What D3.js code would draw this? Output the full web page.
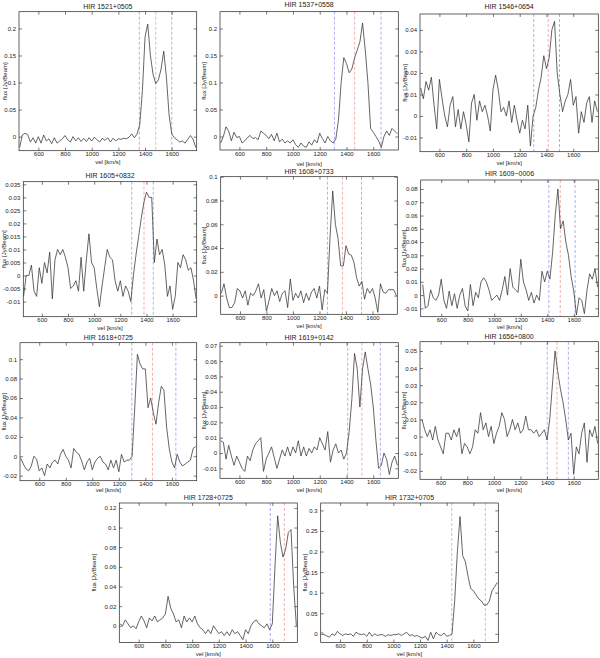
<!DOCTYPE html>
<html>
<head>
<meta charset="utf-8">
<script src="https://cdn.jsdelivr.net/npm/d3@7"></script>
<style>
body { margin: 0; background: #fff; }
svg text { font-family: "Liberation Sans", Arial, sans-serif; fill: #222; }
</style>
</head>
<body>
<svg id="fig" width="600" height="658"></svg>
<script>
// velocity channels [km/s], shared by every spectrum
var vel = [460, 480, 500, 520, 540, 560, 580, 600, 620, 640,
           660, 680, 700, 720, 740, 760, 780, 800, 820, 840,
           860, 880, 900, 920, 940, 960, 980, 1000, 1020, 1040,
           1060, 1080, 1100, 1120, 1140, 1160, 1180, 1200, 1220, 1240,
           1260, 1280, 1300, 1320, 1340, 1360, 1380, 1400, 1420, 1440,
           1460, 1480, 1500, 1520, 1540, 1560, 1580, 1600, 1620, 1640,
           1660, 1680, 1700, 1720, 1740, 1760, 1780];

var xTicks = [600, 800, 1000, 1200, 1400, 1600];

// flux [Jy/Beam], one list per source
var flux1521 = [-0.020, 0.003, 0.006, 0.004, -0.010, -0.002, -0.012, 0.000, -0.012, 0.003,
                -0.008, -0.004, -0.013, -0.002, -0.012, -0.008, -0.004, 0.002, -0.006, -0.010,
                0.000, -0.008, -0.002, -0.009, -0.003, -0.009, -0.002, -0.008, -0.001, -0.006,
                -0.010, -0.003, -0.007, -0.002, -0.010, -0.003, -0.008, -0.004, -0.005, -0.003,
                -0.004, -0.001, 0.005, -0.002, 0.005, 0.022, 0.085, 0.185, 0.208, 0.150,
                0.115, 0.098, 0.105, 0.125, 0.158, 0.110, 0.040, 0.005, -0.002, -0.006,
                -0.010, -0.008, -0.012, -0.005, 0.002, -0.005, -0.020];
var flux1537 = [-0.012, 0.000, 0.018, 0.010, -0.008, 0.008, -0.002, 0.000, -0.012, -0.008,
                -0.002, 0.002, -0.004, -0.002, -0.006, 0.010, 0.006, 0.002, -0.004, 0.004,
                -0.008, 0.006, -0.010, -0.005, -0.012, -0.008, -0.012, -0.006, -0.015, -0.020,
                -0.012, -0.018, -0.020, -0.010, -0.016, -0.006, -0.012, 0.006, -0.004, -0.012,
                0.000, -0.008, -0.012, -0.005, 0.030, 0.100, 0.146, 0.135, 0.118, 0.125,
                0.145, 0.160, 0.175, 0.210, 0.160, 0.100, 0.015, 0.008, 0.000, -0.008,
                -0.020, 0.000, 0.010, 0.002, 0.015, 0.010, 0.005];
var flux1546 = [0.013, 0.008, 0.016, 0.012, 0.018, 0.005, -0.006, 0.017, 0.008, 0.000,
                -0.005, 0.005, 0.009, -0.005, 0.003, -0.006, 0.002, -0.004, -0.012, 0.006,
                0.010, -0.002, 0.007, 0.002, 0.005, 0.000, -0.007, 0.012, 0.019, 0.012,
                0.002, 0.004, 0.000, 0.007, -0.003, 0.005, -0.002, -0.008, -0.002, -0.006,
                0.005, -0.014, 0.000, 0.004, 0.012, 0.018, 0.028, 0.022, 0.027, 0.040,
                0.044, 0.020, 0.010, 0.002, 0.007, 0.010, 0.017, 0.005, 0.009, -0.008,
                0.002, -0.003, 0.006, 0.009, -0.003, 0.007, 0.002];
var flux1605 = [-0.008, 0.000, 0.000, 0.004, -0.006, -0.008, 0.003, -0.003, 0.005, 0.001,
                0.009, -0.009, 0.006, 0.010, 0.008, 0.010, 0.007, 0.003, -0.005, -0.004,
                -0.002, -0.006, 0.007, -0.006, 0.006, 0.016, 0.005, 0.003, -0.005, -0.012,
                -0.004, 0.003, 0.010, 0.007, 0.006, -0.002, -0.006, -0.002, -0.008, -0.004,
                -0.006, -0.010, 0.000, 0.008, 0.015, 0.022, 0.028, 0.032, 0.030, 0.030,
                0.005, 0.014, 0.008, 0.010, 0.004, -0.008, -0.004, -0.013, -0.008, 0.005,
                0.003, 0.008, 0.006, 0.002, 0.003, -0.002, -0.009];
var flux1608 = [0.002, 0.010, -0.002, -0.010, -0.010, -0.006, 0.006, 0.004, -0.002, 0.004,
                -0.008, 0.002, 0.000, 0.004, 0.010, -0.002, 0.005, -0.013, -0.004, 0.006,
                0.000, 0.004, -0.005, 0.002, 0.004, -0.010, 0.014, -0.004, 0.002, -0.002,
                0.004, -0.006, 0.002, -0.004, 0.003, 0.006, -0.002, 0.008, -0.012, 0.005,
                0.002, 0.050, 0.088, 0.060, 0.048, 0.025, 0.025, 0.042, 0.035, 0.034,
                0.028, 0.015, 0.008, 0.012, -0.003, 0.006, 0.002, 0.006, -0.002, -0.014,
                0.010, 0.003, 0.002, 0.005, 0.005, 0.005, 0.000];
var flux1609 = [0.008, -0.010, -0.008, 0.004, -0.002, -0.004, 0.000, 0.012, -0.004, -0.010,
                0.003, -0.008, 0.001, -0.010, 0.000, 0.005, -0.008, -0.012, 0.008, -0.008,
                0.002, -0.002, 0.010, 0.013, 0.010, 0.004, -0.004, -0.002, 0.000, -0.004,
                0.004, 0.014, 0.000, 0.020, 0.006, 0.004, 0.002, 0.027, 0.010, 0.004,
                -0.004, 0.002, -0.006, 0.000, -0.004, 0.018, 0.010, 0.018, 0.012, 0.032,
                0.060, 0.080, 0.050, 0.056, 0.040, 0.030, 0.014, 0.003, -0.015, -0.002,
                -0.004, -0.014, 0.004, 0.016, 0.012, 0.020, 0.006];
var flux1618 = [-0.002, -0.008, -0.013, -0.015, -0.010, 0.000, -0.003, -0.015, -0.012, -0.020,
                -0.008, -0.012, -0.006, -0.004, -0.008, 0.002, 0.007, 0.000, -0.004, -0.012,
                0.008, 0.004, 0.002, -0.005, -0.014, -0.006, -0.002, -0.014, -0.006, -0.002,
                0.000, -0.006, -0.008, -0.014, -0.004, -0.012, -0.004, -0.016, 0.002, -0.006,
                -0.004, -0.004, 0.000, 0.050, 0.105, 0.095, 0.090, 0.090, 0.050, 0.060,
                0.045, 0.033, 0.055, 0.072, 0.068, 0.030, 0.008, -0.006, -0.012, 0.002,
                -0.006, -0.010, -0.008, -0.006, -0.004, 0.008, 0.010];
var flux1619 = [0.008, 0.007, -0.004, 0.005, -0.002, -0.008, -0.002, -0.006, -0.010, -0.012,
                -0.002, -0.005, 0.002, 0.006, 0.008, 0.010, -0.012, -0.004, 0.000, 0.004,
                -0.003, -0.010, -0.004, 0.002, -0.002, 0.004, -0.002, 0.004, 0.000, 0.008,
                -0.002, 0.004, -0.002, 0.003, 0.000, 0.004, 0.002, 0.010, 0.006, 0.002,
                0.014, -0.006, 0.002, 0.006, 0.000, 0.002, -0.004, 0.000, 0.014, 0.035,
                0.065, 0.055, 0.030, 0.055, 0.066, 0.055, 0.045, 0.030, 0.008, -0.010,
                -0.008, 0.000, -0.004, -0.014, -0.006, -0.002, -0.008];
var flux1656 = [0.010, 0.004, 0.000, 0.004, -0.002, 0.006, -0.002, -0.006, -0.010, 0.002,
                0.002, -0.002, 0.004, 0.000, 0.005, -0.010, -0.004, -0.006, -0.010, -0.006,
                0.004, 0.002, 0.014, 0.004, 0.008, 0.000, 0.006, -0.004, 0.002, 0.006,
                0.014, 0.010, 0.000, 0.004, 0.010, 0.004, 0.008, 0.002, 0.004, 0.012,
                0.004, 0.004, 0.002, 0.004, 0.000, 0.002, 0.004, -0.002, 0.010, 0.030,
                0.050, 0.038, 0.028, 0.020, 0.010, -0.002, 0.002, -0.022, -0.006, -0.010,
                0.002, 0.008, -0.015, 0.004, 0.000, 0.006, -0.004];
var flux1728 = [0.002, 0.000, 0.006, 0.002, -0.002, 0.000, -0.003, 0.004, 0.010, 0.005,
                -0.002, 0.008, 0.005, 0.010, 0.004, 0.006, 0.008, 0.012, 0.030, 0.018,
                0.012, 0.004, 0.006, -0.002, 0.010, 0.004, 0.008, 0.004, 0.010, 0.002,
                -0.002, -0.004, -0.008, -0.004, -0.008, 0.000, -0.004, -0.008, -0.006, -0.010,
                -0.006, -0.010, -0.004, -0.008, -0.006, -0.010, -0.014, -0.004, -0.008, 0.000,
                0.004, 0.006, 0.002, 0.000, -0.002, 0.002, -0.004, 0.002, 0.060, 0.112,
                0.085, 0.070, 0.078, 0.095, 0.098, 0.040, 0.000];
var flux1732 = [0.005, -0.002, -0.005, -0.008, 0.000, -0.004, 0.006, 0.000, -0.004, 0.000,
                -0.002, 0.000, -0.006, 0.004, 0.000, -0.002, 0.000, -0.006, 0.004, -0.006,
                0.000, -0.004, -0.002, -0.002, -0.006, -0.002, -0.004, -0.002, -0.002, 0.000,
                -0.004, 0.000, 0.004, -0.004, -0.002, -0.006, -0.004, -0.008, -0.010, -0.006,
                -0.016, 0.004, -0.012, 0.004, -0.002, -0.004, 0.002, -0.006, -0.004, 0.000,
                0.080, 0.200, 0.285, 0.190, 0.175, 0.140, 0.110, 0.105, 0.095, 0.085,
                0.080, 0.070, 0.070, 0.080, 0.105, 0.115, 0.125];

var names = ["HIR 1521+0505", "HIR 1537+0558", "HIR 1546+0654",
             "HIR 1605+0832", "HIR 1608+0733", "HIR 1609\u22120006",
             "HIR 1618+0725", "HIR 1619+0142", "HIR 1656+0800",
             "HIR 1728+0725", "HIR 1732+0705"];

// velocity markers: outer (blue) and centre (red)
var blueLines = [[1357, 1600], [1310, 1658], [1305, 1497],
                 [1287, 1452], [1260, 1517], [1412, 1610],
                 [1298, 1630], [1409, 1653], [1401, 1560],
                 [1585], []];
var redLines = [[1480], [1461], [1413],
                [1381], [1373], [1498],
                [1454], [1515], [1474],
                [1690], [1438, 1690]];

var yTicks = [[0, 0.05, 0.1, 0.15, 0.2],
              [0, 0.05, 0.1, 0.15, 0.2],
              [-0.01, 0, 0.01, 0.02, 0.03, 0.04],
              [-0.01, -0.005, 0, 0.005, 0.01, 0.015, 0.02, 0.025, 0.03, 0.035],
              [0, 0.02, 0.04, 0.06, 0.08, 0.1],
              [-0.01, 0, 0.01, 0.02, 0.03, 0.04, 0.05, 0.06, 0.07, 0.08],
              [-0.02, 0, 0.02, 0.04, 0.06, 0.08, 0.1],
              [-0.01, 0, 0.01, 0.02, 0.03, 0.04, 0.05, 0.06, 0.07],
              [-0.02, -0.01, 0, 0.01, 0.02, 0.03, 0.04, 0.05],
              [0, 0.02, 0.04, 0.06, 0.08, 0.1, 0.12],
              [0, 0.05, 0.1, 0.15, 0.2, 0.25, 0.3]];

var yDomains = [[-0.026, 0.231], [-0.025, 0.231], [-0.0166, 0.0474],
                [-0.0158, 0.036], [-0.0157, 0.1], [-0.0163, 0.0868],
                [-0.0252, 0.117], [-0.0165, 0.072], [-0.0249, 0.0554],
                [-0.017, 0.125], [-0.021, 0.318]];

var spectra = [flux1521, flux1537, flux1546, flux1605, flux1608, flux1609,
               flux1618, flux1619, flux1656, flux1728, flux1732];

// layout: box [left, top, right, bottom], title baseline, xlabel baseline, ylabel x
var boxes = [
    {b: [19, 11.7, 196.7, 150.7], t: 8.5, xl: 164, yl: 5},
    {b: [220, 11.7, 398.3, 150], t: 6.5, xl: 165.5, yl: 204},
    {b: [420, 14, 598.3, 151.7], t: 8.5, xl: 164.5, yl: 405},
    {b: [23.3, 181.7, 196.7, 316.7], t: 177.5, xl: 330, yl: 4},
    {b: [220.7, 176.7, 397.3, 314.3], t: 174, xl: 327.5, yl: 204},
    {b: [420.7, 180, 598.3, 316.7], t: 176, xl: 329, yl: 404},
    {b: [20, 342.7, 196.7, 480.7], t: 340, xl: 492, yl: 3.5},
    {b: [220, 342.7, 398.3, 478.3], t: 340, xl: 491.5, yl: 204},
    {b: [420, 341.7, 598.3, 479.3], t: 338.5, xl: 492, yl: 404},
    {b: [119.3, 503, 297.3, 642.5], t: 500, xl: 655.5, yl: 94},
    {b: [320.7, 503, 498.3, 642.5], t: 500, xl: 655.5, yl: 305}
];
var xDomains = [[455, 1787], [455, 1787], [455, 1787],
                [458, 1784], [455, 1787], [445, 1785],
                [455, 1787], [455, 1787], [445, 1785],
                [455, 1787], [455, 1787]];

var svg = d3.select("#fig");

function fmt(d) {
    return String(+d.toFixed(4));
}

function drawPanel(i) {
    var L = boxes[i].b;
    var x = d3.scaleLinear().domain(xDomains[i]).range([L[0], L[2]]);
    var y = d3.scaleLinear().domain(yDomains[i]).range([L[3], L[1]]);
    var g = svg.append("g");

    g.append("clipPath").attr("id", "clip" + i)
        .append("rect")
        .attr("x", L[0]).attr("y", L[1])
        .attr("width", L[2] - L[0]).attr("height", L[3] - L[1]);

    var plot = g.append("g").attr("clip-path", "url(#clip" + i + ")");

    // dashed velocity markers
    plot.selectAll(".blue")
        .data(blueLines[i])
        .enter()
        .append("line")
        .attr("x1", function (d) { return x(d); })
        .attr("x2", function (d) { return x(d); })
        .attr("y1", L[1]).attr("y2", L[3])
        .style("stroke", "#8c8cf0")
        .style("stroke-width", 0.7)
        .style("stroke-dasharray", "3,2");

    plot.selectAll(".red")
        .data(redLines[i])
        .enter()
        .append("line")
        .attr("x1", function (d) { return x(d); })
        .attr("x2", function (d) { return x(d); })
        .attr("y1", L[1]).attr("y2", L[3])
        .style("stroke", "#f08c8c")
        .style("stroke-width", 0.7)
        .style("stroke-dasharray", "3,2");

    var line = d3.line()
        .x(function (d, k) { return x(vel[k]); })
        .y(function (d) { return y(d); });

    plot.append("path")
        .datum(spectra[i])
        .attr("d", line)
        .style("fill", "none")
        .style("stroke", "#333")
        .style("stroke-width", 0.75);

    // axes, MATLAB style ticks pointing in
    var gx = g.append("g")
        .attr("transform", "translate(0," + L[3] + ")")
        .call(d3.axisBottom(x).tickValues(xTicks).tickSizeInner(-3).tickSizeOuter(0)
            .tickPadding(1.5).tickFormat(d3.format("d")));
    var gxt = g.append("g")
        .attr("transform", "translate(0," + L[1] + ")")
        .call(d3.axisTop(x).tickValues(xTicks).tickSizeInner(-3).tickSizeOuter(0).tickFormat(""));
    var gy = g.append("g")
        .attr("transform", "translate(" + L[0] + ",0)")
        .call(d3.axisLeft(y).tickValues(yTicks[i]).tickSizeInner(-3).tickSizeOuter(0).tickPadding(3).tickFormat(fmt));
    var gyr = g.append("g")
        .attr("transform", "translate(" + L[2] + ",0)")
        .call(d3.axisRight(y).tickValues(yTicks[i]).tickSizeInner(-3).tickSizeOuter(0).tickFormat(""));

    [gx, gxt, gy, gyr].forEach(function (a) {
        a.select(".domain").remove();
        a.selectAll("line").style("stroke", "#222").style("stroke-width", 0.6);
        a.selectAll("text")
            .attr("font-size", "6px")
            .style("fill", "#222");
    });

    g.append("rect")
        .attr("x", L[0]).attr("y", L[1])
        .attr("width", L[2] - L[0]).attr("height", L[3] - L[1])
        .style("fill", "none")
        .style("stroke", "#222")
        .style("stroke-width", 0.7);

    g.append("text")
        .attr("x", (L[0] + L[2]) / 2)
        .attr("y", boxes[i].t)
        .attr("text-anchor", "middle")
        .attr("font-size", "7px")
        .text(names[i]);

    g.append("text")
        .attr("x", (L[0] + L[2]) / 2)
        .attr("y", boxes[i].xl)
        .attr("text-anchor", "middle")
        .attr("font-size", "6px")
        .text("vel [km/s]");

    g.append("text")
        .attr("transform", "translate(" + boxes[i].yl + "," + ((L[1] + L[3]) / 2) + ") rotate(-90)")
        .attr("text-anchor", "middle")
        .attr("dominant-baseline", "central")
        .attr("font-size", "6px")
        .text("flux [Jy/Beam]");
}

for (var i = 0; i < spectra.length; i++) {
    drawPanel(i);
}
</script>
</body>
</html>
